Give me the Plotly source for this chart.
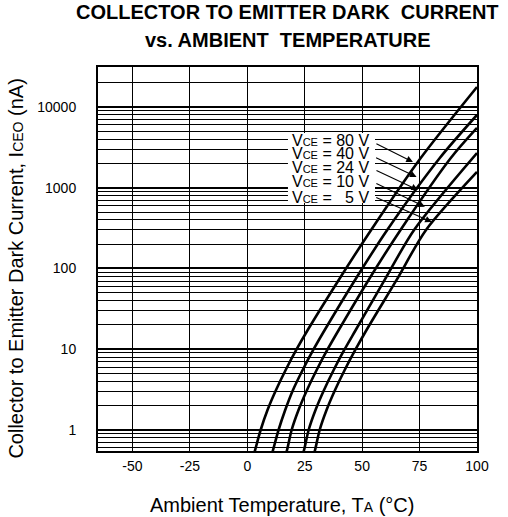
import plotly.graph_objects as go
import math

# ---- data ----
# Ambient temperature (degC) and collector-emitter dark current (nA) per VCE curve
temp_80v = [2.2, 3.4, 5.8, 8.8, 12.5, 16.7, 21.3, 26.3, 39.8, 53.9, 75.5, 100]
iceo_80v = [0.43, 0.565, 1.0, 1.77, 3.13, 5.53, 9.79, 17.3, 72.1, 300, 2335, 17700]

temp_40v = [10.0, 11.2, 13.6, 16.5, 19.9, 24.1, 28.7, 33.7, 46.9, 60.9, 83.8, 100]
iceo_40v = [0.43, 0.565, 1.0, 1.77, 3.13, 5.53, 9.79, 17.3, 72.1, 300, 2335, 7960]

temp_24v = [16.1, 17.3, 19.3, 22.3, 26.0, 30.2, 34.8, 39.8, 52.8, 66.7, 88.6, 100]
iceo_24v = [0.43, 0.565, 1.0, 1.77, 3.13, 5.53, 9.79, 17.3, 72.1, 300, 2335, 5500]

temp_10v = [23.5, 24.7, 26.7, 29.7, 33.4, 37.6, 42.2, 47.2, 59.8, 72.6, 100]
iceo_10v = [0.43, 0.565, 1.0, 1.77, 3.13, 5.53, 9.79, 17.3, 72.1, 300, 2690]

temp_5v = [28.3, 29.5, 31.5, 34.5, 38.2, 42.4, 47.0, 51.9, 65.0, 77.8, 100]
iceo_5v = [0.43, 0.565, 1.0, 1.77, 3.13, 5.53, 9.79, 17.3, 72.1, 300, 1570]

series_names = ["VCE = 80 V", "VCE = 40 V", "VCE = 24 V", "VCE = 10 V", "VCE = 5 V"]
label_texts = [
    "V<span style='font-size:11px'>CE</span> = 80 V",
    "V<span style='font-size:11px'>CE</span> = 40 V",
    "V<span style='font-size:11px'>CE</span> = 24 V",
    "V<span style='font-size:11px'>CE</span> = 10 V",
    "V<span style='font-size:11px'>CE</span> = \u00a0\u00a05 V",
]

x_ticks = [-50, -25, 0, 25, 50, 75, 100]
x_ticktext = ["-50", "-25", "0", "25", "50", "75", "100"]
y_ticks = [1, 10, 100, 1000, 10000]
y_ticktext = ["1", "10", "100", "1000", "10000"]
y_minor = [0.6, 0.7, 0.8, 0.9] + [m * 10 ** k for k in range(0, 4) for m in range(2, 10)] + [20000]

# arrow heads (temperature, current) and tail offsets (px)
arrow_heads_t = [72.1, 73.7, 74.3, 77.3, 80.3]
arrow_heads_i = [2085, 1360, 940, 580, 377]
arrow_ax = [-38, -42, -43, -50, -57]
arrow_ay = [-19, -20, -20, -24, -25]
label_t = 18.6
label_i = [3900, 2655, 1760, 1180, 767]

FONT = "Arial, 'Liberation Sans', Helvetica, sans-serif"

fig = go.Figure()
all_t = [temp_80v, temp_40v, temp_24v, temp_10v, temp_5v]
all_i = [iceo_80v, iceo_40v, iceo_24v, iceo_10v, iceo_5v]
for name, t, i in zip(series_names, all_t, all_i):
    fig.add_trace(go.Scatter(x=t, y=i, mode="lines", name=name,
                             line=dict(color="black", width=2.6, shape="spline", smoothing=0.8),
                             showlegend=False))

annotations = []
for txt, li in zip(label_texts, label_i):
    annotations.append(dict(x=label_t, y=math.log10(li), xref="x", yref="y", text=txt,
                            showarrow=False, xanchor="left", yanchor="middle",
                            font=dict(family=FONT, size=16, color="black")))
for hx, hy, ax, ay in zip(arrow_heads_t, arrow_heads_i, arrow_ax, arrow_ay):
    annotations.append(dict(x=hx, y=math.log10(hy), xref="x", yref="y", text="",
                            showarrow=True, ax=ax, ay=ay, arrowhead=2, arrowsize=1.2,
                            arrowwidth=1.1, arrowcolor="black", standoff=0))

# titles
annotations.append(dict(x=0.5, y=1.0, xref="paper", yref="paper", yshift=55,
                        text="<b>COLLECTOR TO EMITTER DARK  CURRENT</b>", showarrow=False,
                        xanchor="center", yanchor="middle",
                        font=dict(family=FONT, size=20, color="black")))
annotations.append(dict(x=0.5, y=1.0, xref="paper", yref="paper", yshift=27,
                        text="<b>vs. AMBIENT  TEMPERATURE</b>", showarrow=False,
                        xanchor="center", yanchor="middle",
                        font=dict(family=FONT, size=20, color="black")))
annotations.append(dict(x=0.485, y=0.0, xref="paper", yref="paper", yshift=-54,
                        text="Ambient Temperature, T<span style='font-size:14px'>A</span> (°C)",
                        showarrow=False, xanchor="center", yanchor="middle",
                        font=dict(family=FONT, size=20, color="black")))
annotations.append(dict(x=0.0, y=0.475, xref="paper", yref="paper", xshift=-82,
                        text="Collector to Emitter Dark Current, I<span style='font-size:14px'>CEO</span> (nA)",
                        showarrow=False, textangle=-90, xanchor="center", yanchor="middle",
                        font=dict(family=FONT, size=20, color="black")))

fig.update_layout(
    width=508, height=517,
    margin=dict(l=98, r=31, t=67, b=66),
    paper_bgcolor="white", plot_bgcolor="white",
    annotations=annotations,
    shapes=[dict(type="rect", xref="x", yref="y", layer="between",
                 x0=17.7, x1=55.6, y0=647, y1=4764,
                 fillcolor="white", line=dict(width=0))],
)
fig.update_xaxes(range=[-65, 100], tickvals=x_ticks, ticktext=x_ticktext, showgrid=True,
                 gridcolor="black", gridwidth=1.4, zeroline=False, showline=True, mirror=True,
                 linecolor="black", linewidth=2, ticks="", ticklabelstandoff=1,
                 tickfont=dict(family=FONT, size=14, color="black"))
fig.update_yaxes(type="log", range=[-0.26, 4.495], tickvals=y_ticks, ticktext=y_ticktext,
                 showgrid=True, gridcolor="black", gridwidth=2.4, zeroline=False,
                 showline=True, mirror=True, linecolor="black", linewidth=2, ticks="",
                 ticklabelstandoff=17,
                 tickfont=dict(family=FONT, size=14, color="black"),
                 minor=dict(tickvals=y_minor, showgrid=True, gridcolor="black", gridwidth=1.3, ticks=""))

fig.write_html("out.html", config={"displayModeBar": False},
               post_script="document.body.style.margin='0px';")
